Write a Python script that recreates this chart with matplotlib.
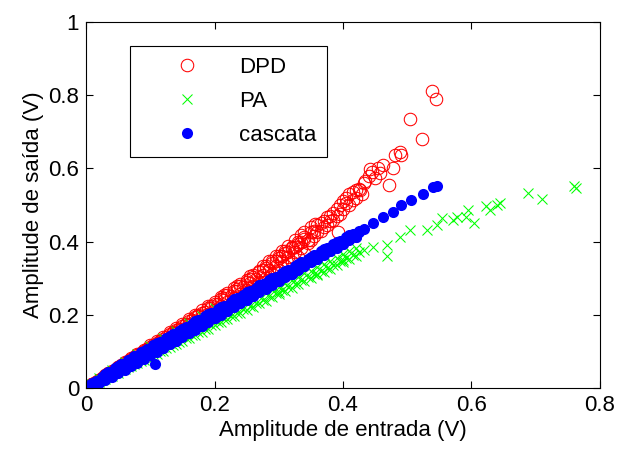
import matplotlib
matplotlib.use("Agg")
import matplotlib.pyplot as plt

plt.rcParams['font.family'] = ['Liberation Sans', 'DejaVu Sans']

# DPD output (red circles): dense rows along the band, then the sparse top end
dpd_x = [0.01, 0.02, 0.03, 0.04, 0.05, 0.06, 0.07, 0.08, 0.09, 0.10, 0.11, 0.12, 0.13, 0.14, 0.15,
         0.16, 0.17, 0.18, 0.19, 0.20, 0.21, 0.22, 0.23, 0.24, 0.25, 0.26, 0.27, 0.28, 0.29, 0.30,
         0.31, 0.32, 0.33, 0.34,
         0.005, 0.015, 0.025, 0.035, 0.045, 0.055, 0.065, 0.075, 0.085, 0.095, 0.105, 0.115, 0.125,
         0.135, 0.145, 0.155, 0.165, 0.175, 0.185, 0.195, 0.205, 0.215, 0.225, 0.235, 0.245, 0.255,
         0.265, 0.275, 0.285, 0.295, 0.305, 0.315, 0.325, 0.335, 0.345,
         0.005, 0.01, 0.015, 0.02, 0.03, 0.035, 0.04, 0.05, 0.055, 0.06, 0.07, 0.075, 0.08, 0.09,
         0.095, 0.10, 0.11, 0.115, 0.12, 0.13, 0.135, 0.14, 0.15, 0.155, 0.16, 0.17, 0.175, 0.18,
         0.19, 0.195, 0.20, 0.21, 0.215, 0.22, 0.23, 0.235, 0.24, 0.25, 0.255, 0.26, 0.27, 0.275,
         0.28, 0.29, 0.295, 0.30, 0.305, 0.31, 0.315, 0.32, 0.325, 0.33, 0.335, 0.34,
         0.01, 0.02, 0.03, 0.04, 0.05, 0.06, 0.07, 0.08, 0.09, 0.10, 0.11, 0.12, 0.13, 0.14, 0.15,
         0.16, 0.17, 0.18, 0.19, 0.20, 0.21, 0.22, 0.23, 0.24, 0.25, 0.26, 0.27, 0.28, 0.29, 0.30,
         0.31, 0.32, 0.33, 0.34, 0.35,
         0.215, 0.235, 0.255, 0.275, 0.285, 0.295, 0.305, 0.315, 0.325, 0.335, 0.34, 0.35, 0.357,
         0.345, 0.35, 0.355, 0.355, 0.36, 0.36, 0.365, 0.365, 0.37, 0.37, 0.375, 0.375, 0.38, 0.38,
         0.385, 0.385, 0.39, 0.39, 0.393, 0.395, 0.395, 0.40, 0.40, 0.405, 0.405, 0.41, 0.41,
         0.415, 0.415, 0.42, 0.42, 0.425, 0.426, 0.43, 0.432, 0.435, 0.44, 0.442, 0.445, 0.45,
         0.455, 0.458, 0.463, 0.471, 0.478, 0.481, 0.489, 0.491, 0.504, 0.523, 0.538, 0.545]
dpd_y = [0.011, 0.021, 0.032, 0.043, 0.053, 0.064, 0.075, 0.086, 0.096, 0.107, 0.118, 0.128, 0.139,
         0.150, 0.161, 0.171, 0.182, 0.193, 0.203, 0.214, 0.225, 0.236, 0.246, 0.257, 0.268, 0.279,
         0.290, 0.301, 0.312, 0.323, 0.334, 0.345, 0.357, 0.368,
         0.006, 0.017, 0.028, 0.039, 0.050, 0.062, 0.073, 0.084, 0.095, 0.106, 0.118, 0.129, 0.140,
         0.151, 0.162, 0.174, 0.185, 0.196, 0.207, 0.218, 0.230, 0.241, 0.252, 0.264, 0.275, 0.287,
         0.298, 0.310, 0.322, 0.334, 0.346, 0.358, 0.371, 0.383, 0.395,
         0.006, 0.011, 0.017, 0.022, 0.033, 0.040, 0.044, 0.056, 0.060, 0.067, 0.078, 0.083, 0.090,
         0.100, 0.107, 0.112, 0.124, 0.128, 0.135, 0.147, 0.152, 0.158, 0.170, 0.176, 0.182, 0.194,
         0.199, 0.205, 0.218, 0.223, 0.230, 0.242, 0.246, 0.254, 0.266, 0.270, 0.278, 0.290, 0.298,
         0.302, 0.316, 0.322, 0.328, 0.342, 0.347, 0.354, 0.362, 0.368, 0.372, 0.382, 0.386, 0.394,
         0.400, 0.408,
         0.012, 0.023, 0.035, 0.047, 0.058, 0.070, 0.082, 0.093, 0.105, 0.117, 0.129, 0.140, 0.152,
         0.164, 0.176, 0.188, 0.200, 0.212, 0.224, 0.236, 0.248, 0.260, 0.272, 0.284, 0.296, 0.309,
         0.321, 0.334, 0.347, 0.360, 0.373, 0.386, 0.400, 0.413, 0.427,
         0.254, 0.279, 0.305, 0.332, 0.346, 0.360, 0.374, 0.389, 0.404, 0.418, 0.426, 0.440, 0.449,
         0.405, 0.404, 0.415, 0.430, 0.425, 0.446, 0.430, 0.450, 0.440, 0.455, 0.445, 0.468, 0.455,
         0.470, 0.460, 0.478, 0.470, 0.490, 0.427, 0.475, 0.500, 0.490, 0.510, 0.505, 0.520, 0.500,
         0.530, 0.515, 0.535, 0.520, 0.540, 0.545, 0.541, 0.530, 0.559, 0.565, 0.580, 0.598, 0.590,
         0.573, 0.600, 0.587, 0.609, 0.555, 0.602, 0.637, 0.646, 0.637, 0.734, 0.680, 0.812, 0.789]

# PA output (green crosses): dense rows, high scatter at low input, sparse tail
pa_x = [0.01, 0.02, 0.03, 0.04, 0.05, 0.06, 0.07, 0.08, 0.09, 0.10, 0.11, 0.12, 0.13, 0.14, 0.15,
        0.16, 0.17, 0.18, 0.19, 0.20, 0.21, 0.22, 0.23, 0.24, 0.25, 0.26, 0.27, 0.28, 0.29, 0.30,
        0.31, 0.32, 0.33, 0.34, 0.35, 0.36, 0.37, 0.38, 0.39, 0.40, 0.41, 0.42,
        0.005, 0.015, 0.025, 0.035, 0.045, 0.055, 0.065, 0.075, 0.085, 0.095, 0.105, 0.115, 0.125,
        0.135, 0.145, 0.155, 0.165, 0.175, 0.185, 0.195, 0.205, 0.215, 0.225, 0.235, 0.245, 0.255,
        0.265, 0.275, 0.285, 0.295, 0.305, 0.315, 0.325, 0.335, 0.345, 0.355, 0.365, 0.375, 0.385,
        0.395, 0.405, 0.415, 0.425,
        0.01, 0.02, 0.03, 0.04, 0.05, 0.06, 0.07, 0.08, 0.09, 0.10, 0.11, 0.12, 0.13, 0.14, 0.15,
        0.16, 0.17, 0.18, 0.19, 0.20, 0.21, 0.22, 0.23, 0.24, 0.25, 0.26, 0.27, 0.28, 0.29, 0.30,
        0.31, 0.32, 0.33, 0.34, 0.35, 0.36, 0.37, 0.38, 0.39, 0.40, 0.41, 0.42,
        0.02, 0.04, 0.06, 0.08, 0.10, 0.12, 0.14, 0.16, 0.18, 0.20,
        0.30, 0.36, 0.40,
        0.432, 0.447, 0.468, 0.468, 0.489, 0.504, 0.530, 0.546, 0.554, 0.572, 0.577, 0.592, 0.595,
        0.604, 0.623, 0.629, 0.639, 0.644, 0.688, 0.709, 0.759, 0.763]
pa_y = [0.010, 0.019, 0.029, 0.038, 0.048, 0.057, 0.066, 0.076, 0.085, 0.095, 0.104, 0.113, 0.123,
        0.132, 0.141, 0.150, 0.160, 0.169, 0.178, 0.187, 0.196, 0.205, 0.214, 0.223, 0.232, 0.241,
        0.250, 0.259, 0.268, 0.277, 0.286, 0.295, 0.304, 0.313, 0.321, 0.330, 0.339, 0.348, 0.356,
        0.365, 0.373, 0.382,
        0.004, 0.013, 0.022, 0.031, 0.040, 0.048, 0.057, 0.066, 0.075, 0.083, 0.092, 0.101, 0.110,
        0.118, 0.127, 0.136, 0.145, 0.153, 0.162, 0.171, 0.180, 0.189, 0.197, 0.206, 0.215, 0.224,
        0.232, 0.241, 0.250, 0.259, 0.268, 0.276, 0.285, 0.294, 0.303, 0.311, 0.320, 0.329, 0.337,
        0.346, 0.355, 0.363, 0.372,
        0.008, 0.017, 0.025, 0.034, 0.042, 0.051, 0.059, 0.068, 0.076, 0.085, 0.094, 0.102, 0.111,
        0.119, 0.128, 0.136, 0.145, 0.153, 0.162, 0.171, 0.179, 0.188, 0.196, 0.205, 0.213, 0.222,
        0.231, 0.239, 0.248, 0.257, 0.265, 0.274, 0.283, 0.291, 0.300, 0.309, 0.317, 0.326, 0.335,
        0.343, 0.352, 0.361,
        0.026, 0.049, 0.071, 0.092, 0.114, 0.136, 0.157, 0.178, 0.198, 0.218,
        0.262, 0.312, 0.350,
        0.377, 0.386, 0.391, 0.361, 0.413, 0.432, 0.432, 0.445, 0.464, 0.459, 0.468, 0.468, 0.485,
        0.450, 0.497, 0.486, 0.500, 0.505, 0.532, 0.516, 0.552, 0.546]

# cascade output (blue dots): five rows across the band, sparse top end, one outlier
cas_x = [0.02, 0.04, 0.06, 0.08, 0.10, 0.12, 0.14, 0.16, 0.18, 0.20, 0.22, 0.24, 0.26, 0.28, 0.30,
         0.32, 0.34, 0.36, 0.38, 0.40, 0.42,
         0.01, 0.03, 0.05, 0.07, 0.09, 0.11, 0.13, 0.15, 0.17, 0.19, 0.21, 0.23, 0.25, 0.27, 0.29,
         0.31, 0.33, 0.35, 0.37, 0.39, 0.41,
         0.005, 0.015, 0.025, 0.035, 0.045, 0.055, 0.065, 0.075, 0.085, 0.095, 0.105, 0.115, 0.125,
         0.135, 0.145, 0.155, 0.165, 0.175, 0.185, 0.195, 0.205, 0.215, 0.225, 0.235, 0.245, 0.255,
         0.265, 0.275, 0.285, 0.295, 0.305, 0.315, 0.325, 0.335, 0.345, 0.355, 0.365, 0.375, 0.385,
         0.395, 0.405, 0.415, 0.425, 0.432,
         0.01, 0.02, 0.03, 0.04, 0.05, 0.06, 0.07, 0.08, 0.09, 0.10, 0.11, 0.12, 0.13, 0.14, 0.15,
         0.16, 0.17, 0.18, 0.19, 0.20, 0.21, 0.22, 0.23, 0.24, 0.25, 0.26, 0.27, 0.28, 0.29, 0.30,
         0.31, 0.32, 0.33, 0.34, 0.35, 0.36, 0.37, 0.38, 0.39, 0.40, 0.41, 0.42,
         0.005, 0.015, 0.025, 0.035, 0.045, 0.055, 0.065, 0.075, 0.085, 0.095, 0.105, 0.115, 0.125,
         0.135, 0.145, 0.155, 0.165, 0.175, 0.185, 0.195, 0.205, 0.215, 0.225, 0.235, 0.245, 0.255,
         0.265, 0.275, 0.285, 0.295, 0.305, 0.315, 0.325, 0.335, 0.345, 0.355, 0.365, 0.375, 0.385,
         0.395, 0.405, 0.415, 0.425,
         0.447, 0.463, 0.478, 0.491, 0.506, 0.525, 0.540, 0.546, 0.107]
cas_y = [0.015, 0.033, 0.051, 0.071, 0.090, 0.109, 0.129, 0.149, 0.170, 0.190, 0.210, 0.231, 0.251,
         0.271, 0.292, 0.312, 0.332, 0.352, 0.373, 0.393, 0.413,
         0.014, 0.037, 0.059, 0.080, 0.101, 0.122, 0.142, 0.162, 0.182, 0.202, 0.222, 0.242, 0.261,
         0.281, 0.301, 0.320, 0.340, 0.359, 0.379, 0.398, 0.418,
         0.006, 0.016, 0.026, 0.038, 0.047, 0.058, 0.066, 0.078, 0.087, 0.096, 0.108, 0.117, 0.126,
         0.138, 0.147, 0.156, 0.168, 0.177, 0.186, 0.198, 0.207, 0.216, 0.228, 0.237, 0.246, 0.258,
         0.267, 0.276, 0.288, 0.297, 0.306, 0.318, 0.327, 0.336, 0.348, 0.357, 0.366, 0.378, 0.387,
         0.396, 0.408, 0.417, 0.426, 0.434,
         0.008, 0.016, 0.023, 0.031, 0.040, 0.050, 0.059, 0.069, 0.079, 0.089, 0.099, 0.109, 0.119,
         0.128, 0.139, 0.149, 0.159, 0.169, 0.180, 0.190, 0.200, 0.210, 0.221, 0.231, 0.241, 0.251,
         0.262, 0.272, 0.282, 0.292, 0.302, 0.312, 0.323, 0.333, 0.343, 0.353, 0.363, 0.373, 0.383,
         0.393, 0.403, 0.413,
         0.007, 0.019, 0.031, 0.043, 0.055, 0.066, 0.076, 0.087, 0.097, 0.107, 0.117, 0.127, 0.137,
         0.147, 0.157, 0.166, 0.176, 0.186, 0.196, 0.206, 0.215, 0.225, 0.235, 0.245, 0.255, 0.264,
         0.274, 0.284, 0.294, 0.304, 0.314, 0.323, 0.333, 0.343, 0.353, 0.363, 0.373, 0.383, 0.393,
         0.402, 0.412, 0.422, 0.430,
         0.450, 0.468, 0.482, 0.500, 0.514, 0.530, 0.548, 0.552, 0.066]

fig = plt.figure(figsize=(6.17, 4.5), dpi=100)
ax = fig.add_axes([0.1394, 0.1378, 0.833, 0.8133])

ax.plot(dpd_x, dpd_y, linestyle='none', marker='o', markersize=9, markerfacecolor='none',
        markeredgecolor=(1, 0, 0), markeredgewidth=0.75, label='DPD')
ax.plot(pa_x, pa_y, linestyle='none', marker='x', markersize=7.5, color=(0, 1, 0),
        markeredgewidth=0.75, label='PA')
ax.plot(cas_x, cas_y, linestyle='none', marker='o', markersize=8, color=(0, 0, 1),
        markeredgewidth=0, label='cascata')

ax.set_xlim(0, 0.8)
ax.set_ylim(0, 1)
ax.set_xticks([0, 0.2, 0.4, 0.6, 0.8])
ax.set_xticklabels(['0', '0.2', '0.4', '0.6', '0.8'])
ax.set_yticks([0, 0.2, 0.4, 0.6, 0.8, 1])
ax.set_yticklabels(['0', '0.2', '0.4', '0.6', '0.8', '1'])
ax.tick_params(direction='in', length=5, width=0.8, top=True, right=True, labelsize=16, pad=5)
for s in ax.spines.values():
    s.set_linewidth(0.8)

ax.set_xlabel('Amplitude de entrada (V)', fontsize=16, labelpad=3)
ax.set_ylabel('Amplitude de saída (V)', fontsize=16, labelpad=3)

leg = ax.legend(loc='upper left', bbox_to_anchor=(0.0856, 0.934), fontsize=16, numpoints=1,
                fancybox=False, framealpha=1, edgecolor='black', borderpad=0.5,
                labelspacing=0.58, handletextpad=0.29, handlelength=4.1, borderaxespad=0)
leg.get_frame().set_linewidth(0.8)

plt.savefig('out.png', dpi=100)
